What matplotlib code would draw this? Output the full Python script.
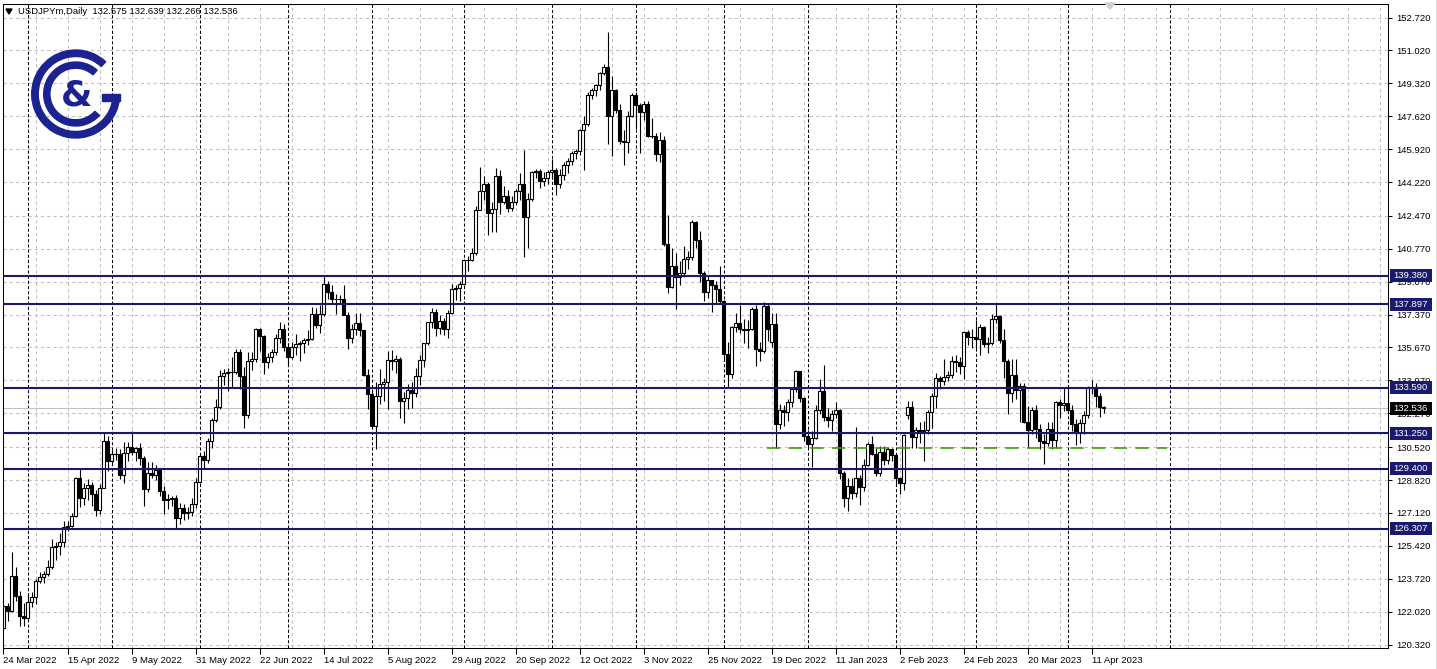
import numpy as np
import pandas as pd
import matplotlib
matplotlib.use("Agg")
import matplotlib.pyplot as plt
import matplotlib.transforms as mtrans
from matplotlib.patches import Rectangle, Wedge, Polygon
from matplotlib.lines import Line2D

plt.rcParams['font.family'] = ['Liberation Sans', 'DejaVu Sans']

# USDJPYm daily bars, 24 Mar 2022 .. 14 Apr 2023
opens = [
    121.18, 122.32, 122.05, 123.85, 122.85, 121.80, 121.70, 122.52, 122.75, 123.60,
    123.82, 123.95, 124.30, 125.35, 125.40, 125.60, 126.40, 126.45, 126.95, 128.90,
    127.90, 128.40, 128.55, 128.10, 127.25, 128.40, 130.85, 129.80, 130.15, 130.15,
    129.10, 130.20, 130.55, 130.25, 130.45, 129.95, 128.35, 129.20, 129.10, 129.35,
    128.25, 127.80, 127.85, 127.90, 126.85, 127.35, 127.10, 127.15, 127.60, 128.70,
    130.05, 129.85, 130.85, 131.90, 132.60, 134.20, 134.35, 134.40, 134.40, 135.45,
    134.20, 132.20, 134.95, 135.05, 136.65, 136.25, 134.90, 135.20, 135.45, 136.15,
    136.60, 135.70, 135.20, 135.70, 135.85, 135.90, 136.05, 136.10, 137.40, 136.85,
    137.40, 138.95, 138.55, 138.15, 138.20, 138.20, 137.35, 136.15, 136.65, 136.95,
    136.55, 134.25, 133.25, 131.60, 133.15, 133.80, 133.90, 135.00, 134.95, 135.05,
    132.90, 133.05, 133.45, 133.30, 134.20, 135.00, 135.90, 137.00, 137.50, 136.70,
    137.05, 136.60, 137.45, 138.70, 138.75, 138.95, 140.20, 140.20, 140.55, 142.75,
    143.75, 144.10, 142.60, 142.85, 144.55, 143.20, 143.50, 142.90, 143.20, 143.75,
    144.10, 142.40, 143.35, 144.75, 144.80, 144.25, 144.45, 144.75, 144.85, 144.10,
    144.60, 145.10, 145.30, 145.70, 145.80, 146.90, 147.20, 148.70, 148.95, 149.25,
    149.85, 150.15, 147.65, 149.00, 147.95, 146.35, 146.30, 147.65, 148.70, 148.20,
    147.85, 148.25, 146.60, 146.60, 145.65, 146.40, 141.00, 138.80, 139.90, 139.30,
    139.50, 140.25, 140.35, 142.15, 141.25, 139.50, 138.55, 139.15, 138.90, 138.70,
    138.05, 135.35, 134.30, 136.75, 136.95, 136.60, 136.55, 136.60, 137.65, 135.60,
    135.50, 137.80, 135.95, 136.90, 131.70, 132.45, 132.35, 132.85, 133.50, 134.45,
    133.05, 131.10, 130.70, 131.00, 132.45, 133.40, 132.10, 131.90, 132.25, 132.45,
    129.20, 127.90, 128.50, 128.15, 128.90, 128.45, 129.60, 130.70, 130.15, 129.20,
    130.25, 129.85, 130.40, 130.10, 128.95, 128.65, 132.20, 132.60, 131.05, 131.40,
    131.35, 131.40, 132.35, 133.15, 134.10, 133.95, 134.15, 134.25, 134.95, 134.90,
    134.70, 136.45, 136.20, 136.20, 136.10, 136.75, 135.85, 135.90, 137.15, 137.30,
    136.05, 134.95, 133.30, 134.25, 133.45, 133.70, 131.80, 131.40, 132.45, 131.45,
    130.85, 130.75, 131.45, 130.90, 132.85, 132.70, 132.80, 132.45, 131.70, 131.25,
    131.75, 132.20, 133.60, 133.65, 133.15, 132.575,
]
highs = [
    122.41, 122.44, 125.10, 124.30, 123.08, 122.45, 122.97, 123.05, 123.70, 124.05,
    124.10, 124.70, 125.75, 125.62, 126.10, 126.70, 126.68, 127.10, 129.00, 129.40,
    128.65, 128.85, 128.70, 128.30, 128.60, 131.25, 131.10, 130.35, 130.45, 130.40,
    130.80, 130.80, 131.35, 130.55, 130.75, 130.05, 129.75, 129.75, 129.60, 129.45,
    128.50, 128.10, 128.00, 128.05, 127.65, 127.60, 127.45, 127.90, 128.90, 130.15,
    130.30, 131.00, 132.00, 133.00, 134.50, 134.55, 134.60, 135.20, 135.60, 135.60,
    134.65, 135.45, 135.45, 136.70, 136.70, 136.30, 135.40, 135.60, 136.35, 137.00,
    136.90, 135.90, 135.95, 136.35, 136.00, 136.15, 136.55, 137.75, 137.70, 137.85,
    139.40, 139.10, 138.90, 138.45, 138.40, 138.90, 137.50, 136.90, 137.45, 137.45,
    136.55, 134.55, 133.55, 133.90, 134.55, 134.10, 135.50, 135.55, 135.30, 135.20,
    133.35, 133.80, 133.90, 134.60, 135.30, 135.90, 137.00, 137.70, 137.65, 137.35,
    137.20, 137.60, 138.95, 138.90, 139.10, 140.25, 140.40, 140.80, 143.00, 144.99,
    144.55, 144.20, 143.20, 144.95, 144.85, 144.00, 143.80, 143.50, 143.85, 144.70,
    145.90, 143.65, 144.80, 144.90, 144.90, 144.75, 144.85, 145.40, 144.95, 144.90,
    145.25, 145.45, 145.80, 145.95, 146.95, 147.65, 148.85, 149.10, 149.30, 149.90,
    150.30, 151.95, 149.70, 149.05, 148.25, 146.90, 147.90, 148.80, 148.85, 148.30,
    148.40, 148.40, 147.55, 146.75, 146.80, 146.60, 142.50, 140.80, 140.55, 140.15,
    140.90, 140.65, 142.25, 142.20, 141.70, 139.60, 139.40, 139.15, 139.10, 139.90,
    138.10, 135.95, 136.80, 137.45, 137.85, 137.15, 137.10, 137.75, 137.85, 135.95,
    138.00, 137.90, 137.45, 137.45, 132.75, 132.70, 133.00, 133.55, 134.50, 134.45,
    133.10, 131.40, 131.35, 132.70, 134.05, 134.75, 132.55, 132.45, 132.85, 132.50,
    129.30, 128.90, 128.90, 131.55, 129.10, 129.90, 130.80, 131.10, 130.45, 130.60,
    130.60, 130.55, 130.45, 130.20, 129.00, 131.20, 132.90, 132.90, 131.55, 131.80,
    131.85, 132.45, 133.30, 134.35, 134.20, 135.10, 134.45, 135.25, 135.30, 135.20,
    136.50, 136.55, 136.60, 137.10, 136.90, 136.80, 136.20, 137.40, 137.90, 137.35,
    136.65, 135.10, 135.10, 135.10, 133.85, 133.85, 132.65, 132.60, 132.70, 131.70,
    131.20, 131.80, 131.80, 132.90, 133.00, 133.60, 133.75, 132.70, 131.95, 131.95,
    132.40, 133.70, 134.00, 133.85, 133.30, 132.639,
]
lows = [
    121.03, 121.53, 122.00, 122.58, 121.30, 121.28, 121.65, 122.25, 122.40, 123.50,
    123.50, 123.85, 124.20, 124.70, 124.95, 125.35, 126.20, 126.40, 126.90, 127.45,
    127.55, 127.80, 127.50, 126.95, 127.05, 128.40, 129.30, 129.60, 129.85, 128.85,
    128.65, 129.80, 130.10, 129.80, 129.60, 127.50, 128.20, 128.90, 128.80, 128.00,
    127.05, 127.30, 127.50, 126.35, 126.55, 126.75, 126.80, 126.95, 127.35, 128.65,
    129.45, 129.70, 130.45, 131.80, 132.50, 133.75, 133.40, 133.60, 134.30, 133.50,
    131.50, 132.00, 134.50, 134.90, 135.50, 134.30, 134.60, 134.90, 135.30, 135.90,
    135.50, 134.75, 135.05, 135.30, 134.95, 135.40, 135.80, 136.05, 136.70, 136.40,
    137.30, 138.15, 137.95, 137.40, 137.90, 137.35, 135.60, 135.90, 136.30, 136.25,
    134.20, 132.50, 131.60, 130.40, 132.75, 132.90, 132.50, 134.50, 134.35, 132.05,
    131.75, 132.50, 132.55, 133.10, 133.75, 134.65, 135.80, 136.70, 136.25, 136.35,
    136.30, 136.15, 137.40, 138.10, 138.05, 138.90, 139.60, 140.15, 140.45, 142.75,
    143.30, 141.50, 141.65, 141.65, 142.55, 143.10, 142.65, 142.70, 143.05, 143.30,
    140.35, 140.80, 143.25, 144.45, 143.90, 144.00, 144.10, 144.50, 143.55, 143.90,
    144.35, 144.70, 145.10, 145.40, 145.60, 144.85, 147.10, 148.50, 148.65, 149.00,
    149.75, 146.20, 145.55, 147.80, 146.20, 145.10, 145.70, 147.60, 146.95, 145.70,
    147.40, 146.55, 146.50, 145.30, 145.25, 140.90, 138.50, 138.75, 137.65, 138.90,
    139.30, 139.70, 140.20, 140.80, 139.05, 138.05, 138.25, 137.50, 137.90, 137.90,
    135.00, 133.60, 134.10, 136.45, 136.40, 135.90, 135.65, 136.55, 134.70, 134.95,
    135.40, 136.00, 135.70, 130.47, 131.45, 131.60, 131.85, 132.60, 133.35, 132.85,
    130.85, 130.45, 129.50, 130.95, 132.25, 131.85, 131.55, 131.35, 132.00, 128.85,
    127.45, 127.20, 127.85, 127.95, 127.55, 128.25, 129.55, 130.10, 129.05, 129.05,
    129.60, 129.65, 129.80, 128.55, 128.10, 128.30, 131.95, 130.50, 130.50, 130.75,
    129.80, 131.20, 131.50, 132.55, 133.50, 133.75, 133.95, 134.10, 134.40, 134.30,
    134.05, 135.80, 135.65, 135.60, 135.30, 135.70, 135.40, 135.80, 136.95, 135.90,
    134.10, 132.25, 132.85, 133.00, 131.80, 131.75, 130.55, 131.20, 131.00, 130.40,
    129.65, 130.60, 130.40, 130.50, 132.05, 132.40, 132.35, 131.35, 130.65, 130.75,
    131.20, 132.00, 133.25, 132.60, 132.10, 132.266,
]
closes = [
    122.32, 122.05, 123.85, 122.85, 121.80, 121.70, 122.52, 122.75, 123.60, 123.82,
    123.95, 124.30, 125.35, 125.40, 125.60, 126.40, 126.45, 126.95, 128.90, 127.90,
    128.40, 128.55, 128.10, 127.25, 128.40, 130.85, 129.80, 130.15, 130.15, 129.10,
    130.20, 130.55, 130.25, 130.45, 129.95, 128.35, 129.20, 129.10, 129.35, 128.25,
    127.80, 127.85, 127.90, 126.85, 127.35, 127.10, 127.15, 127.60, 128.70, 130.05,
    129.85, 130.85, 131.90, 132.60, 134.20, 134.35, 134.40, 134.40, 135.45, 134.20,
    132.20, 134.95, 135.05, 136.65, 136.25, 134.90, 135.20, 135.45, 136.15, 136.60,
    135.70, 135.20, 135.70, 135.85, 135.90, 136.05, 136.10, 137.40, 136.85, 137.40,
    138.95, 138.55, 138.15, 138.20, 138.20, 137.35, 136.15, 136.65, 136.95, 136.55,
    134.25, 133.25, 131.60, 133.15, 133.80, 133.90, 135.00, 134.95, 135.05, 132.90,
    133.05, 133.45, 133.30, 134.20, 135.00, 135.90, 137.00, 137.50, 136.70, 137.05,
    136.60, 137.45, 138.70, 138.75, 138.95, 140.20, 140.20, 140.55, 142.75, 143.75,
    144.10, 142.60, 142.85, 144.55, 143.20, 143.50, 142.90, 143.20, 143.75, 144.10,
    142.40, 143.35, 144.75, 144.80, 144.25, 144.45, 144.75, 144.85, 144.10, 144.60,
    145.10, 145.30, 145.70, 145.80, 146.90, 147.20, 148.70, 148.95, 149.25, 149.85,
    150.15, 147.65, 149.00, 147.95, 146.35, 146.30, 147.65, 148.70, 148.20, 147.85,
    148.25, 146.60, 146.60, 145.65, 146.40, 141.00, 138.80, 139.90, 139.30, 139.50,
    140.25, 140.35, 142.15, 141.25, 139.50, 138.55, 139.15, 138.90, 138.70, 138.05,
    135.35, 134.30, 136.75, 136.95, 136.60, 136.55, 136.60, 137.65, 135.60, 135.50,
    137.80, 136.65, 136.90, 131.70, 132.45, 132.35, 132.85, 133.50, 134.45, 133.05,
    131.10, 130.70, 131.00, 132.45, 133.40, 132.10, 131.90, 132.25, 132.45, 129.20,
    127.90, 128.50, 128.15, 128.90, 128.45, 129.60, 130.70, 130.15, 129.20, 130.25,
    129.85, 130.40, 130.10, 128.95, 128.65, 131.15, 132.60, 131.05, 131.40, 131.35,
    131.40, 132.35, 133.15, 134.10, 133.95, 134.15, 134.25, 134.95, 134.90, 134.70,
    136.45, 136.20, 136.20, 136.10, 136.75, 135.85, 135.90, 137.15, 137.30, 136.05,
    134.95, 133.30, 134.25, 133.45, 133.70, 131.80, 131.40, 132.45, 131.45, 130.85,
    130.75, 131.45, 130.90, 132.85, 132.70, 132.80, 132.45, 131.70, 131.25, 131.75,
    132.20, 133.60, 133.65, 133.15, 132.58, 132.536,
]

dates = pd.bdate_range("2022-03-24", "2023-04-14")
dates = dates[dates != pd.Timestamp("2022-12-26")]   # broker has no bar that day

levels = [139.380, 137.897, 133.590, 131.250, 129.400, 126.307]
support = 130.47          # green dashed line (Dec 20 low)
bid = 132.536
header = "USDJPYm,Daily  132.575 132.639 132.266 132.536"

price_ticks = [152.720, 151.020, 149.320, 147.620, 145.920, 144.220, 142.470,
               140.770, 139.070, 137.370, 135.670, 133.970, 132.270, 130.520,
               128.820, 127.120, 125.420, 123.720, 122.020, 120.320]
date_ticks = [0, 16, 32, 48, 64, 80, 96, 112, 128, 144, 160, 176, 192, 208,
              224, 240, 256, 272]
date_labels = ["24 Mar 2022", "15 Apr 2022", "9 May 2022", "31 May 2022",
               "22 Jun 2022", "14 Jul 2022", "5 Aug 2022", "29 Aug 2022",
               "20 Sep 2022", "12 Oct 2022", "3 Nov 2022", "25 Nov 2022",
               "19 Dec 2022", "11 Jan 2023", "2 Feb 2023", "24 Feb 2023",
               "20 Mar 2023", "11 Apr 2023"]

NAVY = '#191970'
GRID = '#c0c0c0'

W, H = 1437, 669
fig = plt.figure(figsize=(W / 100, H / 100), dpi=100)
fig.patch.set_facecolor('white')

# plot box in pixels: x 3..1388, y 4..648, 4 px per bar
ax = fig.add_axes([3 / W, 1 - 648 / H, 1385 / W, 644 / H])
x0 = -0.125
ax.set_xlim(x0, x0 + 1385 / 4)
ax.set_ylim(120.14, 153.42)
ax.set_facecolor('white')

# grid
for p in price_ticks:
    ax.axhline(p, color=GRID, lw=0.75, ls=(0, (3, 3)), zorder=0)
for k in range(0, 347, 8):
    ax.axvline(k, color=GRID, lw=0.75, ls=(0, (3, 3)), zorder=0)

# month separators
seps = [i for i in range(1, len(dates)) if dates[i].month != dates[i - 1].month]
seps.append(291.6)   # next one, in the empty future area
for k in seps:
    ax.axvline(k, color='black', lw=0.75, ls=(0, (3, 2)), zorder=0.5)

ax.axhline(bid, color=GRID, lw=0.75, zorder=1)

# candles
n = len(closes)
xs = np.arange(n)
ax.vlines(xs, lows, highs, color='black', lw=0.8, zorder=2)
bw = 0.6
for i in range(n):
    o, c = opens[i], closes[i]
    if abs(c - o) < 0.03:
        ax.plot([i - bw / 2, i + bw / 2], [c, c], color='black', lw=0.8, zorder=2.1)
        continue
    fc = 'white' if c > o else 'black'
    ax.add_patch(Rectangle((i - bw / 2, min(o, c)), bw, abs(c - o), facecolor=fc,
                           edgecolor='black', lw=0.8, zorder=2.1))

# horizontal levels
for lv in levels:
    ax.axhline(lv, color=NAVY, lw=1.5, zorder=3)
ax.plot([190.75, 290.75], [support, support], color='#3f9a12', lw=1.2,
        ls=(0, (8, 5)), zorder=3)

# axes styling
for s in ax.spines.values():
    s.set_linewidth(0.75)
    s.set_color('black')
ax.yaxis.tick_right()
ax.set_yticks(price_ticks)
ax.set_yticklabels([f"{p:.3f}" for p in price_ticks])
ax.tick_params(axis='y', length=3, width=0.75, pad=3, labelsize=6.8, direction='out')
ax.set_xticks(date_ticks)
ax.set_xticklabels(date_labels)
ax.tick_params(axis='x', length=4, width=0.75, pad=2, labelsize=6.8, direction='out')
for t in ax.get_xticklabels():
    t.set_horizontalalignment('left')

# price boxes on the right scale
trans = mtrans.blended_transform_factory(ax.transAxes, ax.transData)
ppx = (153.42 - 120.14) / 644
for lv, fc in [(v, NAVY) for v in levels] + [(bid, 'black')]:
    ax.add_patch(Rectangle((1 + 2 / 1385, lv - 6.5 * ppx), 42 / 1385, 13 * ppx,
                           transform=trans, facecolor=fc, edgecolor='none',
                           clip_on=False, zorder=5))
    ax.text(1 + 5 / 1385, lv, f"{lv:.3f}", transform=trans, ha='left', va='center',
            color='white', fontsize=6.8, clip_on=False, zorder=6)

# header
fig.patches.append(Polygon([(6 / W, 1 - 9 / H), (12 / W, 1 - 9 / H), (9 / W, 1 - 14 / H)],
                           closed=True, transform=fig.transFigure, color='black'))
fig.text(18 / W, 1 - 12 / H, header, fontsize=6.8, va='center', ha='left')

# small shift marker at the top and window edge
fig.patches.append(Polygon([(1105 / W, 1 - 3 / H), (1115 / W, 1 - 3 / H), (1110 / W, 1 - 9 / H)],
                           closed=True, transform=fig.transFigure, color='#cfcfcf'))
fig.add_artist(Line2D([1435.5 / W] * 2, [0, 1], color='#d8d8d8', lw=0.75,
                      transform=fig.transFigure))

# logo
lax = fig.add_axes([25 / W, 1 - 145 / H, 100 / W, 100 / H])
lax.set_xlim(25, 125)
lax.set_ylim(-145, -45)
lax.axis('off')
LOGO = '#1c2290'
cx, cy = 75.7, -94.0
lax.add_patch(Wedge((cx, cy), 44, 47, 355, width=6.5, color=LOGO))
lax.add_patch(Rectangle((102, -100.5), 17.6, 6.5, color=LOGO))
lax.add_patch(Wedge((cx, cy), 32, 48, 318, width=6.2, color=LOGO))
lax.text(cx + 1, cy - 1.5, '&', fontsize=26, fontweight='bold', color=LOGO,
         ha='center', va='center', family='DejaVu Sans')

fig.savefig('out.png', dpi=100)
